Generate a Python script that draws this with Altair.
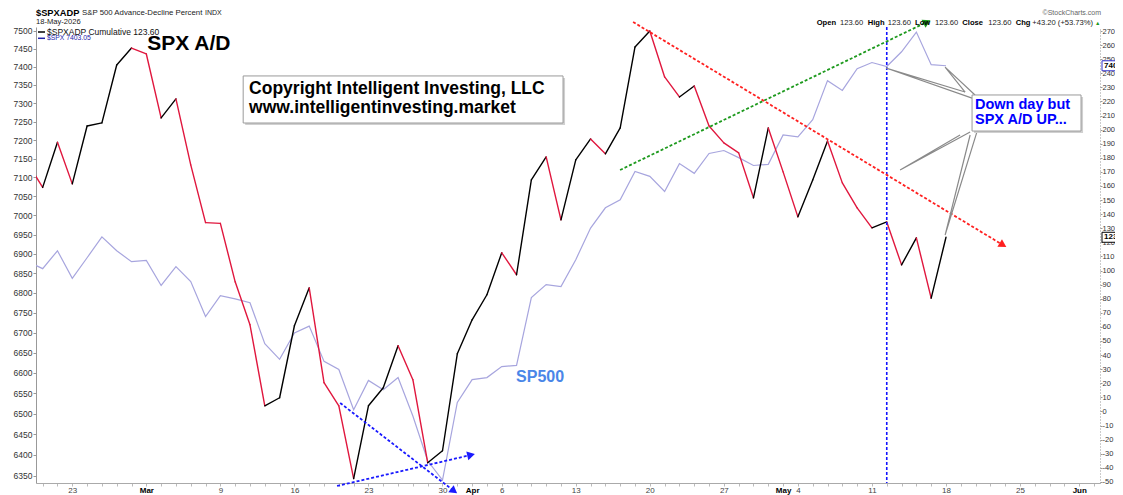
import altair as alt
import pandas as pd

# ---------------- data ----------------
trade_dates = [
    "2026-02-18", "2026-02-19", "2026-02-20", "2026-02-23", "2026-02-24", "2026-02-25", "2026-02-26", "2026-02-27",
    "2026-03-02", "2026-03-03", "2026-03-04", "2026-03-05", "2026-03-06",
    "2026-03-09", "2026-03-10", "2026-03-11", "2026-03-12", "2026-03-13",
    "2026-03-16", "2026-03-17", "2026-03-18", "2026-03-19", "2026-03-20",
    "2026-03-23", "2026-03-24", "2026-03-25", "2026-03-26", "2026-03-27",
    "2026-03-30", "2026-03-31", "2026-04-01", "2026-04-02",
    "2026-04-06", "2026-04-07", "2026-04-08", "2026-04-09", "2026-04-10",
    "2026-04-13", "2026-04-14", "2026-04-15", "2026-04-16", "2026-04-17",
    "2026-04-20", "2026-04-21", "2026-04-22", "2026-04-23", "2026-04-24",
    "2026-04-27", "2026-04-28", "2026-04-29", "2026-04-30", "2026-05-01",
    "2026-05-04", "2026-05-05", "2026-05-06", "2026-05-07", "2026-05-08",
    "2026-05-11", "2026-05-12", "2026-05-13", "2026-05-14", "2026-05-15",
    "2026-05-18",
]

# $SPXADP cumulative (right axis)
ad_cum = [
    176, 159, 191, 161.5, 202.6, 204.8, 245.9, 257.9,
    253.7, 208.3, 221.8, 175, 134,
    133.5, 92, 61.5, 4, 9.7,
    60.8, 87.7, 20.4, 4, -47.7,
    4, 16.8, 46.6, 22.5, -36.4,
    -27.9, 40.9, 65, 82.8,
    112.6, 97, 164.3, 180.6, 136,
    178.5, 193.4, 182.8, 201.2, 258.7,
    270, 237.4, 223.2, 231, 202.6,
    190.6, 183.5, 151.6, 201.2, 170,
    138.1, 164.3, 192, 162.2, 144.5,
    130.3, 134.5, 104, 123.2, 80.4,
    123.6,
]

# $SPX close (left axis, log)
spx_close = [
    6880, 6862, 6908, 6837, 6890, 6944, 6908, 6880,
    6883, 6819, 6867, 6829, 6740,
    6793, 6785, 6775, 6672, 6633,
    6699, 6716, 6628, 6608, 6509,
    6581, 6558, 6588, 6494, 6386,
    6340, 6527, 6583, 6588,
    6615, 6618, 6788, 6821, 6816,
    6885, 6967, 7020, 7041, 7116,
    7103, 7063, 7137, 7111, 7164,
    7172, 7153, 7132, 7135, 7214,
    7209, 7255, 7362, 7335, 7395,
    7412, 7401, 7442, 7497, 7406,
    7403.05,
]

# x axis labels (position = trading-day slot, Feb 19 = 0)
x_label_pos = [2, 7, 12, 17, 22, 27, 29, 31, 36, 41, 46, 50, 51, 56, 61, 66, 70]
x_label_text = ["23", "Mar", "9", "16", "23", "30", "Apr", "6", "13", "20", "27", "May", "4", "11", "18", "25", "Jun"]
month_names = ["Mar", "Apr", "May", "Jun"]
x_tick_slots = list(range(0, 72))

left_tick_values = [6350, 6400, 6450, 6500, 6550, 6600, 6650, 6700, 6750, 6800, 6850, 6900, 6950,
                    7000, 7050, 7100, 7150, 7200, 7250, 7300, 7350, 7400, 7450, 7500]
right_tick_values = [-50, -40, -30, -20, -10, 0, 10, 20, 30, 40, 50, 60, 70, 80, 90, 100, 110, 120,
                     130, 140, 150, 160, 170, 180, 190, 200, 210, 220, 230, 240, 250, 260, 270]

# annotations, in (trading-day slot, A/D value) coordinates
green_arrow_i, green_arrow_v = [38.99, 59.72], [171.35, 276.4]
red_arrow_i, red_arrow_v = [39.87, 64.85], [276.4, 118.1]
blue_arrow1_i, blue_arrow1_v = [20.09, 27.78], [5.98, -56.5]
blue_arrow2_i, blue_arrow2_v = [19.88, 28.93], [-52.9, -30.9]
marker_slot = [57]

copyright_box_i, copyright_box_v = [13.54, 35.14], [238.1, 204.7]
copyright_text_i, copyright_text_v = [13.94, 13.94], [228.8, 215.4]
copyright_lines = ["Copyright Intelligent Investing, LLC", "www.intelligentinvesting.market"]

callout_box_i, callout_box_v = [62.76, 70.12], [224.6, 199.0]
callout_text_i, callout_text_v = [62.96, 62.96], [217.5, 206.8]
callout_lines = ["Down day but", "SPX A/D UP..."]
wedges_i = [[62.29, 56.95, 62.76], [62.29, 60.94, 62.96], [61.95, 57.9, 62.63], [62.63, 60.94, 63.1]]
wedges_v = [[226.7, 243.7, 222.4], [226.7, 244.4, 224.6], [196.2, 171.35, 198.3], [196.2, 125.2, 198.8]]

label_spxad_i, label_spxad_v = [7.06], [260.8]
label_sp500_i, label_sp500_v = [31.97], [24.4]

# ---------------- frames ----------------
slots = [k - 1 for k in range(len(trade_dates))]
df = pd.DataFrame({"i": slots, "date": trade_dates, "ad": ad_cum, "spx": spx_close})
seg = pd.DataFrame({
    "i": slots[:-1], "i2": slots[1:],
    "v": ad_cum[:-1], "v2": ad_cum[1:],
    "dir": ["up" if b >= a else "down" for a, b in zip(ad_cum[:-1], ad_cum[1:])],
})

xs = alt.Scale(domain=[-0.45, 71.4], nice=False, zero=False)
ls = alt.Scale(type="log", domain=[6333.2, 7511.2], nice=False)
rs = alt.Scale(domain=[-50.8, 272.84], nice=False, zero=False)

FONT = "Liberation Sans"


def X(f):
    return alt.X(f, type="quantitative", scale=xs, axis=None)


def YR(f):
    return alt.Y(f, type="quantitative", scale=rs, axis=None)


label_expr = " : ".join(f"datum.value == {p} ? '{t}'" for p, t in zip(x_label_pos, x_label_text)) + " : ''"
month_test = " || ".join(f"datum.value == {p}" for p, t in zip(x_label_pos, x_label_text) if t in month_names)

x_axis = alt.Axis(
    values=x_tick_slots, labelExpr=label_expr, title=None, grid=False,
    labelFontWeight={"condition": {"test": month_test, "value": "bold"}, "value": "normal"},
    labelColor={"condition": {"test": month_test, "value": "#000000"}, "value": "#444444"},
    labelFont=FONT, labelFontSize=8, labelAngle=0, labelOverlap=False, labelBound=False, labelFlush=False,
    tickSize=3, tickColor="#bbbbbb", domainColor="#aaaaaa", labelPadding=0,
)

spx_line = alt.Chart(df).mark_line(color="#a7a5de", strokeWidth=1.2, clip=True).encode(
    x=alt.X("i:Q", scale=xs, axis=x_axis),
    y=alt.Y("spx:Q", scale=ls, axis=alt.Axis(
        orient="left", values=left_tick_values, format="d", title=None, grid=False,
        labelFont=FONT, labelFontSize=8.5, labelColor="#333333", tickSize=3, labelPadding=1,
        tickColor="#999999", domainColor="#999999")),
)

ad_line = alt.Chart(seg).mark_rule(strokeWidth=1.4, clip=True, strokeCap="round").encode(
    x=X("i"), x2="i2:Q",
    y=alt.Y("v:Q", scale=rs, axis=alt.Axis(
        orient="right", values=right_tick_values, title=None, grid=False,
        labelExpr="toString(datum.value)",
        labelFont=FONT, labelFontSize=7.5, labelColor="#333333", tickSize=2, labelPadding=0,
        tickColor="#999999", domainColor="#999999", domainDash=[1, 2])),
    y2="v2:Q",
    color=alt.Color("dir:N", scale=alt.Scale(domain=["up", "down"], range=["#000000", "#e0173e"]), legend=None),
)


def line_layer(ii, vv, color, dash, width):
    d = pd.DataFrame({"i": ii, "v": vv, "o": list(range(len(ii)))})
    kw = dict(color=color, strokeWidth=width)
    if dash:
        kw["strokeDash"] = dash
    return alt.Chart(d).mark_line(**kw).encode(x=X("i"), y=YR("v"), order="o:Q")


def head_layer(i, v, color, angle):
    d = pd.DataFrame({"i": [i], "v": [v]})
    return alt.Chart(d).mark_point(shape="triangle-up", filled=True, color=color, opacity=1,
                                   size=80, angle=angle).encode(x=X("i"), y=YR("v"))


def box_layer(ii, vv, fill, stroke, off=0):
    d = pd.DataFrame({"i": [ii[0]], "i2": [ii[1]], "v": [vv[0]], "v2": [vv[1]]})
    kw = dict(fill=fill, opacity=1)
    if stroke:
        kw.update(stroke=stroke, strokeWidth=1)
    if off:
        kw.update(xOffset=off, x2Offset=off, yOffset=off, y2Offset=off)
    return alt.Chart(d).mark_rect(**kw).encode(x=X("i"), x2="i2:Q", y=YR("v"), y2="v2:Q")


def data_text(ii, vv, texts, **kw):
    d = pd.DataFrame({"i": ii, "v": vv, "t": texts})
    return alt.Chart(d).mark_text(align="left", baseline="middle", font=FONT, fontWeight="bold", **kw).encode(
        x=X("i"), y=YR("v"), text="t:N")


def pix_text(px, py, text, **kw):
    d = pd.DataFrame({"t": [text]})
    base = dict(align="left", baseline="middle", font=FONT)
    base.update(kw)
    return alt.Chart(d).mark_text(**base).encode(x=alt.value(px), y=alt.value(py), text="t:N")


marker = alt.Chart(pd.DataFrame({"i": marker_slot})).mark_rule(
    color="#1414ff", strokeDash=[3, 2], strokeWidth=1.6).encode(x=X("i"))

layers = [spx_line, ad_line, marker]

# arrows
layers += [
    line_layer(green_arrow_i, green_arrow_v, "#1e9a1e", [3, 2], 1.8),
    head_layer(green_arrow_i[1], green_arrow_v[1], "#1e9a1e", 64),
    line_layer(red_arrow_i, red_arrow_v, "#ff2020", [3, 2], 1.8),
    head_layer(red_arrow_i[1], red_arrow_v[1], "#ff2020", 121),
    line_layer(blue_arrow1_i, blue_arrow1_v, "#1a1aff", [3, 2], 1.8),
    head_layer(blue_arrow1_i[1], blue_arrow1_v[1], "#1a1aff", 127),
    line_layer(blue_arrow2_i, blue_arrow2_v, "#1a1aff", [3, 2], 1.8),
    head_layer(blue_arrow2_i[1], blue_arrow2_v[1], "#1a1aff", 77),
]

# callout wedges
for wi, wv in zip(wedges_i, wedges_v):
    layers.append(line_layer(wi, wv, "#8a8a8a", None, 1.2))

# boxes
layers += [
    box_layer(copyright_box_i, copyright_box_v, "#d0d0d0", None, off=2),
    box_layer(copyright_box_i, copyright_box_v, "#ffffff", "#9a9a9a"),
    box_layer(callout_box_i, callout_box_v, "#d0d0d0", None, off=2),
    box_layer(callout_box_i, callout_box_v, "#ffffff", "#9a9a9a"),
]

# annotation text
layers += [
    data_text(label_spxad_i, label_spxad_v, ["SPX A/D"], fontSize=21, color="#000000"),
    data_text(copyright_text_i, copyright_text_v, copyright_lines, fontSize=17.5, color="#000000"),
    data_text(label_sp500_i, label_sp500_v, ["SP500"], fontSize=16, color="#4a86e8"),
    data_text(callout_text_i, callout_text_v, callout_lines, fontSize=14.5, color="#0000ff"),
]

# header & legend (pixel positions relative to plot origin)
layers += [
    pix_text(0, -14.3, "$SPXADP", fontSize=9.3, fontWeight="bold", color="#000000"),
    pix_text(46, -13.6, "S&P 500 Advance-Decline Percent", fontSize=7.8, color="#222222"),
    pix_text(169, -13.6, "INDX", fontSize=7, color="#222222"),
    pix_text(0, -5, "18-May-2026", fontSize=7.6, color="#222222"),
    pix_text(11, 5, "$SPXADP Cumulative 123.60", fontSize=8.5, color="#111111"),
    pix_text(11, 11.3, "$SPX 7403.05", fontSize=6.8, color="#2222aa"),
    pix_text(1065, -14.3, "\u00a9StockCharts.com", fontSize=7, color="#666666", align="right"),
    pix_text(1061.7, -4.5, "\u25b2", fontSize=5.5, color="#1e9a1e", align="center"),
]
layers.append(alt.Chart(pd.DataFrame({"a": [0]})).mark_rule(color="#000000", strokeWidth=1.5).encode(
    x=alt.value(2), x2=alt.value(9), y=alt.value(5)))
layers.append(alt.Chart(pd.DataFrame({"a": [0]})).mark_rule(color="#2222aa", strokeWidth=1.5).encode(
    x=alt.value(2), x2=alt.value(9), y=alt.value(11.3)))

ohlc_bold = [(780.7, "Open"), (831.7, "High"), (879, "Low"), (926.3, "Close"), (979.7, "Chg")]
ohlc_vals = [(804, "123.60"), (851.7, "123.60"), (899, "123.60"), (952.3, "123.60"), (996.3, "+43.20 (+53.73%)")]
for px, t in ohlc_bold:
    layers.append(pix_text(px, -4.5, t, fontSize=7.6, fontWeight="bold", color="#000000"))
for px, t in ohlc_vals:
    layers.append(pix_text(px, -4.5, t, fontSize=7.6, color="#222222"))

# last-value tags on right axis
spx_tag = pd.DataFrame({"v": [spx_close[-1]], "t": ["7403.0"]})
ad_tag = pd.DataFrame({"v": [ad_cum[-1]], "t": ["123.60"]})
layers += [
    alt.Chart(spx_tag).mark_rect(fill="#ffffff", stroke="#3333cc", strokeWidth=1, yOffset=-5, y2Offset=5).encode(
        x=alt.value(1066), x2=alt.value(1095), y=alt.Y("v:Q", scale=ls, axis=None), y2="v:Q"),
    alt.Chart(spx_tag).mark_text(align="left", baseline="middle", font=FONT, fontSize=8, fontWeight="bold",
                                 color="#000000").encode(
        x=alt.value(1068), y=alt.Y("v:Q", scale=ls, axis=None), text="t:N"),
    alt.Chart(ad_tag).mark_rect(fill="#ffffff", stroke="#000000", strokeWidth=1, yOffset=-5, y2Offset=5).encode(
        x=alt.value(1066), x2=alt.value(1095), y=YR("v"), y2="v:Q"),
    alt.Chart(ad_tag).mark_text(align="left", baseline="middle", font=FONT, fontSize=8, fontWeight="bold",
                                color="#000000").encode(
        x=alt.value(1068), y=YR("v"), text="t:N"),
]

chart = alt.layer(*layers).resolve_scale(y="independent").resolve_axis(x="independent").properties(
    width=1064, height=456,
    autosize=alt.AutoSizeParams(type="none"),
    padding={"left": 28, "top": 19, "right": 15, "bottom": 12},
    background="#ffffff",
).configure_view(stroke=None)

chart.save("out.html", embed_options={"renderer": "svg", "actions": False})
